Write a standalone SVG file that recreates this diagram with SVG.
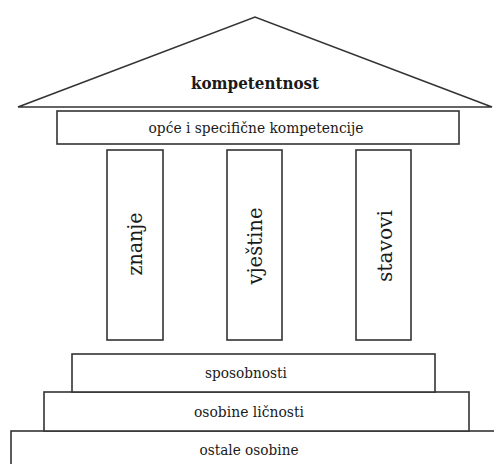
<svg xmlns="http://www.w3.org/2000/svg" width="494" height="464" viewBox="0 0 494 464">
<style>
.s{fill:#fff;stroke:#333;stroke-width:1.6}
.t{font-family:"DejaVu Serif","Liberation Serif","Times New Roman","Noto Serif",Times,serif;fill:#1a1a1a;text-anchor:middle}
</style>
<rect width="494" height="464" fill="#fff"/>
<g id="roof">
<polygon class="s" points="18,107 255,17 492,107" stroke-width="2" stroke-linejoin="miter"/>
<text class="t" x="255" y="89" font-size="17" font-weight="bold" textLength="128" lengthAdjust="spacingAndGlyphs">kompetentnost</text>
</g>
<g id="banner">
<rect class="s" x="57" y="111" width="402" height="33"/>
<text class="t" x="256" y="133" font-size="15" textLength="215" lengthAdjust="spacingAndGlyphs">opće i specifične kompetencije</text>
</g>
<g id="pillar-znanje">
<rect class="s" x="107" y="150" width="56" height="190"/>
<text class="t" font-size="21" transform="translate(142,244) rotate(-90)" textLength="63" lengthAdjust="spacingAndGlyphs">znanje</text>
</g>
<g id="pillar-vjestine">
<rect class="s" x="227" y="150" width="55" height="190"/>
<text class="t" font-size="21" transform="translate(262,246) rotate(-90)" textLength="77" lengthAdjust="spacingAndGlyphs">vještine</text>
</g>
<g id="pillar-stavovi">
<rect class="s" x="356" y="150" width="55" height="190"/>
<text class="t" font-size="21" transform="translate(392,246) rotate(-90)" textLength="72" lengthAdjust="spacingAndGlyphs">stavovi</text>
</g>
<g id="step-ostale">
<rect class="s" x="11" y="431" width="500" height="50"/>
<text class="t" x="249" y="455" font-size="15" textLength="99" lengthAdjust="spacingAndGlyphs">ostale osobine</text>
</g>
<g id="step-licnost">
<rect class="s" x="44" y="392" width="425" height="39"/>
<text class="t" x="249" y="417" font-size="15" textLength="110" lengthAdjust="spacingAndGlyphs">osobine ličnosti</text>
</g>
<g id="step-sposobnosti">
<rect class="s" x="72" y="354" width="363" height="38"/>
<text class="t" x="246" y="378" font-size="15" textLength="82" lengthAdjust="spacingAndGlyphs">sposobnosti</text>
</g>
<g id="connectors"></g>
</svg>
